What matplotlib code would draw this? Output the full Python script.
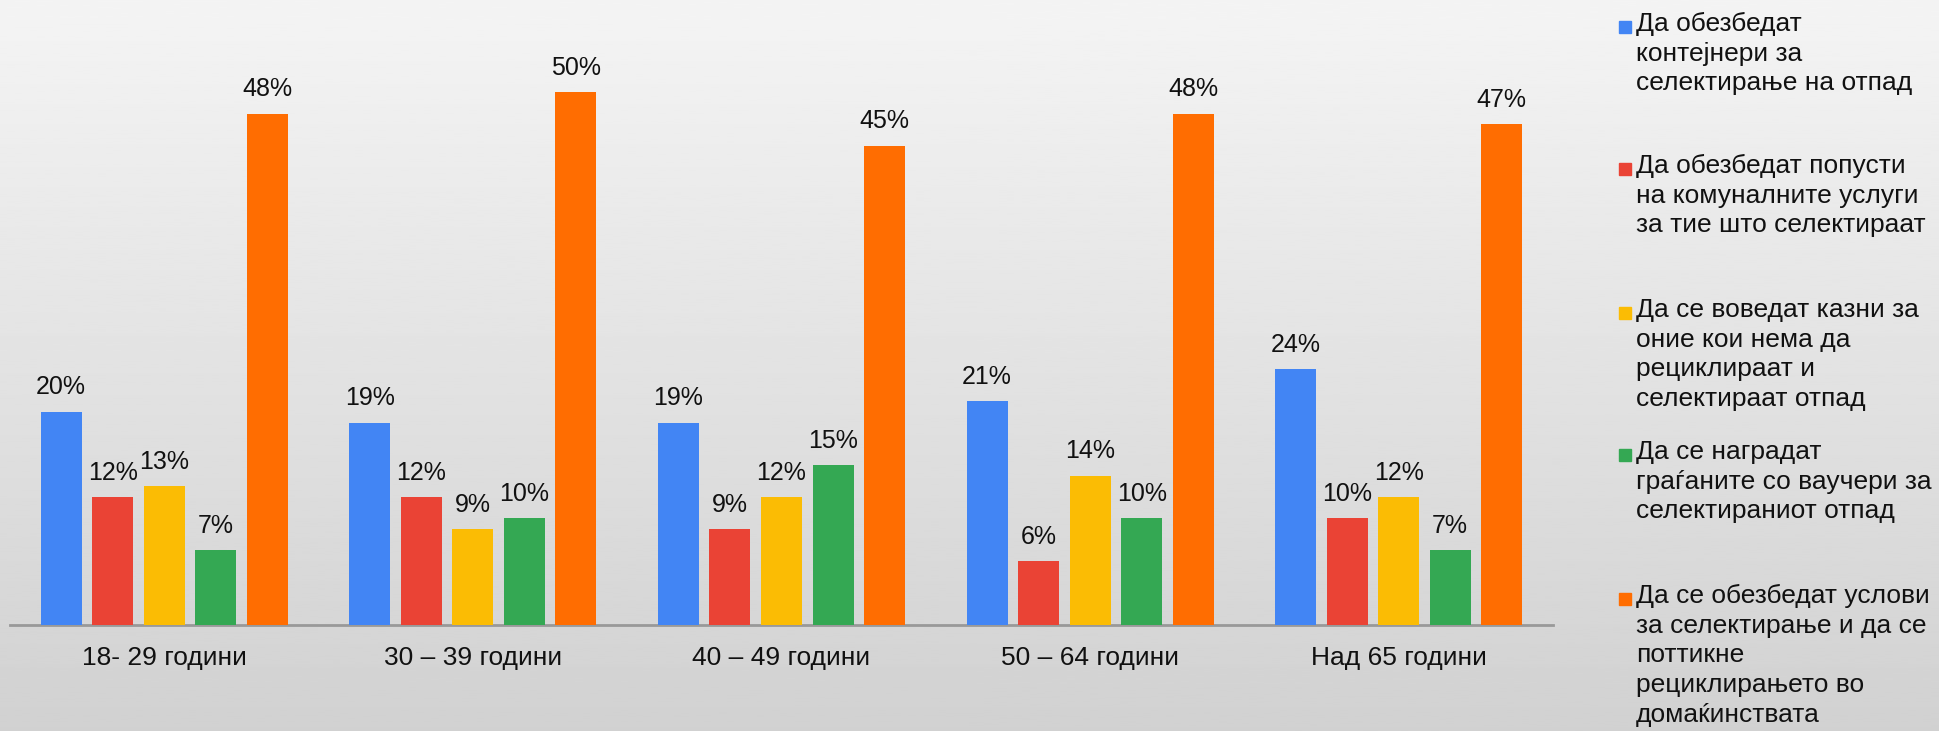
import matplotlib.pyplot as plt
import numpy as np
from matplotlib.patches import Rectangle

plt.rcParams['font.family'] = ['Liberation Sans', 'DejaVu Sans']

# Податоци
categories = ['18- 29 години', '30 – 39 години', '40 – 49 години', '50 – 64 години', 'Над 65 години']
series_names = [
    'Да обезбедат\nконтејнери за\nселектирање на отпад',
    'Да обезбедат попусти\nна комуналните услуги\nза тие што селектираат',
    'Да се воведат казни за\nоние кои нема да\nрециклираат и\nселектираат отпад',
    'Да се наградат\nграѓаните со ваучери за\nселектираниот отпад',
    'Да се обезбедат услови\nза селектирање и да се\nпоттикне\nрециклирањето во\nдомаќинствата',
]
containers = [20, 19, 19, 21, 24]
discounts = [12, 12, 9, 6, 10]
fines = [13, 9, 12, 14, 12]
vouchers = [7, 10, 15, 10, 7]
conditions = [48, 50, 45, 48, 47]
series = [containers, discounts, fines, vouchers, conditions]
colors = ['#4285F4', '#EA4335', '#FBBC04', '#34A853', '#FF6D01']

W, H = 1939, 731
fig = plt.figure(figsize=(W / 100, H / 100), dpi=100)

# Позадина со градиент
bg = fig.add_axes([0, 0, 1, 1], zorder=-10)
grad = np.linspace(0.957, 0.82, 256).reshape(-1, 1)
bg.imshow(grad, aspect='auto', cmap='gray', vmin=0, vmax=1, extent=[0, 1, 0, 1])
bg.axis('off')

ax = fig.add_axes([10 / W, 1 - 625 / H, (1553 - 10) / W, (625 - 39) / H])
ax.patch.set_alpha(0)

x = np.arange(len(categories))
step = 0.167
bw = 0.133
for j, (vals, col) in enumerate(zip(series, colors)):
    bars = ax.bar(x + (j - 2) * step, vals, width=bw, color=col, zorder=3)
    ax.bar_label(bars, labels=[f'{v}%' for v in vals], padding=9, fontsize=18, color='#111111')

ax.set_xlim(-0.5, len(categories) - 0.5)
ax.set_ylim(0, 55)
ax.set_xticks(x)
ax.set_xticklabels(categories, fontsize=19, color='#111111')
ax.tick_params(axis='x', length=0, pad=15)
ax.set_yticks([])
for s in ['top', 'right', 'left']:
    ax.spines[s].set_visible(False)
ax.spines['bottom'].set_color('#999999')
ax.spines['bottom'].set_linewidth(2)

# Легенда
tops = [12, 154, 298, 440, 584]
for name, col, t in zip(series_names, colors, tops):
    fig.add_artist(Rectangle((1619 / W, 1 - (t + 21) / H), 12 / W, 12 / H,
                             transform=fig.transFigure, color=col))
    fig.text(1636 / W, 1 - t / H, name, fontsize=19, va='top', ha='left',
             color='#111111', linespacing=1.3)

plt.savefig('out.png', dpi=100)
plt.close()
